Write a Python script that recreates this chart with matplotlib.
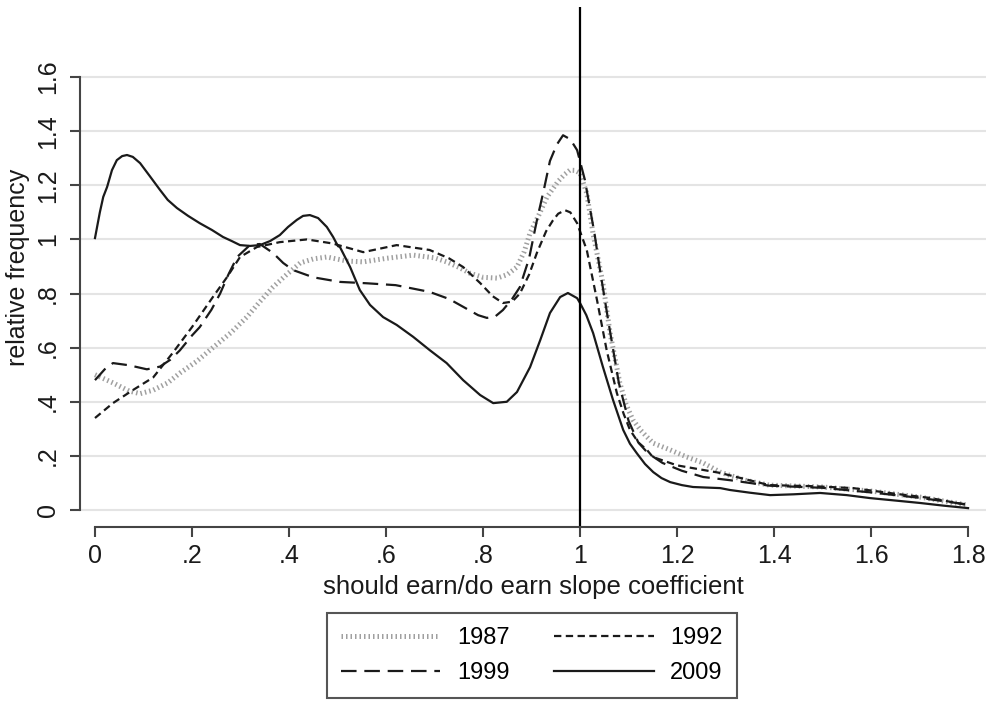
import matplotlib
matplotlib.use("Agg")
import matplotlib.pyplot as plt

plt.rcParams['font.family'] = ['Liberation Sans', 'DejaVu Sans']

# === Data ===
x_1987 = [0, 0.037, 0.07, 0.093, 0.12, 0.15, 0.175, 0.21, 0.243, 0.28, 0.313, 0.34, 0.367, 0.395,
          0.423, 0.45, 0.478, 0.52, 0.553, 0.6, 0.656, 0.7, 0.725, 0.75, 0.773, 0.8, 0.829, 0.85, 0.87,
          0.885, 0.897, 0.915, 0.932, 0.955, 0.968, 0.979, 0.99, 1.0, 1.014, 1.027, 1.047, 1.062, 1.082,
          1.095, 1.109, 1.125, 1.138, 1.151, 1.186, 1.22, 1.254, 1.289, 1.34, 1.39, 1.5, 1.6, 1.7, 1.8]
y_1987 = [0.50, 0.47, 0.44, 0.43, 0.443, 0.47, 0.506, 0.55, 0.60, 0.655, 0.713, 0.77, 0.824, 0.87,
          0.913, 0.928, 0.935, 0.92, 0.917, 0.93, 0.942, 0.932, 0.917, 0.897, 0.875, 0.86, 0.857, 0.87, 0.898,
          0.955, 1.024, 1.09, 1.157, 1.215, 1.24, 1.256, 1.255, 1.245, 1.17, 1.02, 0.84, 0.654, 0.47,
          0.39, 0.333, 0.295, 0.27, 0.247, 0.222, 0.196, 0.174, 0.14, 0.11, 0.092, 0.085, 0.07, 0.048, 0.018]

x_1992 = [0, 0.037, 0.078, 0.12, 0.16, 0.2, 0.243, 0.272, 0.299, 0.334, 0.381, 0.437, 0.49, 0.553,
          0.622, 0.69, 0.73, 0.759, 0.794, 0.82, 0.841, 0.86, 0.876, 0.895, 0.911, 0.93, 0.944, 0.955,
          0.969, 0.98, 0.994, 1.014, 1.035, 1.055, 1.076, 1.09, 1.103, 1.12, 1.138, 1.15, 1.2, 1.289,
          1.39, 1.48, 1.563, 1.65, 1.72, 1.8]
y_1992 = [0.34, 0.395, 0.443, 0.49, 0.58, 0.676, 0.787, 0.86, 0.935, 0.972, 0.99, 1.0, 0.985, 0.953,
          0.979, 0.961, 0.93, 0.898, 0.839, 0.79, 0.765, 0.77, 0.80, 0.87, 0.95, 1.03, 1.07, 1.095,
          1.108, 1.10, 1.06, 0.96, 0.776, 0.59, 0.432, 0.355, 0.296, 0.25, 0.222, 0.196, 0.165, 0.137,
          0.092, 0.088, 0.081, 0.06, 0.045, 0.018]

x_1999 = [0, 0.02, 0.037, 0.07, 0.107, 0.134, 0.155, 0.175, 0.2, 0.216, 0.24, 0.258, 0.275, 0.293,
          0.32, 0.34, 0.367, 0.388, 0.408, 0.45, 0.505, 0.56, 0.62, 0.69, 0.73, 0.76, 0.79, 0.808, 0.825,
          0.841, 0.86, 0.876, 0.895, 0.911, 0.925, 0.938, 0.952, 0.965, 0.98, 0.994, 1.01, 1.03, 1.04,
          1.06, 1.08, 1.1, 1.12, 1.14, 1.17, 1.21, 1.254, 1.31, 1.39, 1.5, 1.6, 1.7, 1.8]
y_1999 = [0.48, 0.52, 0.543, 0.535, 0.52, 0.53, 0.555, 0.59, 0.645, 0.676, 0.74, 0.80, 0.87, 0.935,
          0.98, 0.983, 0.95, 0.913, 0.887, 0.86, 0.843, 0.838, 0.831, 0.806, 0.78, 0.75, 0.72, 0.71, 0.715,
          0.739, 0.78, 0.824, 0.93, 1.07, 1.18, 1.29, 1.35, 1.385, 1.37, 1.33, 1.22, 1.02, 0.90,
          0.68, 0.47, 0.33, 0.25, 0.21, 0.174, 0.145, 0.122, 0.11, 0.09, 0.082, 0.065, 0.045, 0.02]

x_2009 = [0, 0.01, 0.017, 0.025, 0.035, 0.045, 0.056, 0.066, 0.078, 0.093, 0.113, 0.134, 0.15, 0.169,
          0.192, 0.216, 0.241, 0.264, 0.282, 0.299, 0.32, 0.34, 0.361, 0.381, 0.398, 0.416, 0.429, 0.443,
          0.46, 0.478, 0.491, 0.501, 0.505, 0.526, 0.546, 0.567, 0.594, 0.622, 0.656, 0.69, 0.725, 0.759,
          0.794, 0.821, 0.849, 0.87, 0.897, 0.918, 0.938, 0.959, 0.975, 0.994, 1.0, 1.013, 1.027, 1.047,
          1.068, 1.089, 1.103, 1.117, 1.134, 1.151, 1.168, 1.186, 1.21, 1.233, 1.26, 1.289, 1.309, 1.35,
          1.392, 1.44, 1.495, 1.55, 1.598, 1.65, 1.701, 1.75, 1.8]
y_2009 = [1.005, 1.10, 1.157, 1.194, 1.256, 1.293, 1.308, 1.312, 1.305, 1.282, 1.234, 1.183, 1.146, 1.116,
          1.087, 1.06, 1.035, 1.009, 0.994, 0.979, 0.976, 0.979, 0.994, 1.016, 1.046, 1.072, 1.087, 1.09,
          1.079, 1.046, 1.009, 0.975, 0.972, 0.898, 0.813, 0.758, 0.713, 0.684, 0.64, 0.591, 0.543, 0.48,
          0.425, 0.395, 0.40, 0.436, 0.528, 0.628, 0.728, 0.787, 0.802, 0.783, 0.765, 0.72, 0.654, 0.53,
          0.407, 0.296, 0.245, 0.21, 0.17, 0.14, 0.118, 0.103, 0.092, 0.085, 0.083, 0.081, 0.074, 0.064,
          0.055, 0.058, 0.063, 0.055, 0.044, 0.035, 0.026, 0.016, 0.007]

x_ticks = [0, 0.2, 0.4, 0.6, 0.8, 1.0, 1.2, 1.4, 1.6, 1.8]
x_tick_labels = ['0', '.2', '.4', '.6', '.8', '1', '1.2', '1.4', '1.6', '1.8']
y_ticks = [0, 0.2, 0.4, 0.6, 0.8, 1.0, 1.2, 1.4, 1.6]
y_tick_labels = ['0', '.2', '.4', '.6', '.8', '1', '1.2', '1.4', '1.6']

# === Figure ===
fig = plt.figure(figsize=(9.91, 7.01), dpi=100)
ax = fig.add_axes([80 / 991, 1 - 527 / 701, 906 / 991, 520 / 701])
ax.set_xlim(-0.0309, 1.837)
ax.set_ylim(-0.0628, 1.859)

for yt in y_ticks:
    ax.axhline(yt, color='#e4e4e4', lw=1.5, zorder=0)

l87, = ax.plot(x_1987, y_1987, color='#a0a0a0', lw=3.6, dashes=(0.3, 0.6),
               dash_capstyle='butt', label='1987')
l92, = ax.plot(x_1992, y_1992, color='#1a1a1a', lw=1.6, dashes=(3.3, 2.0), label='1992')
l99, = ax.plot(x_1999, y_1999, color='#1a1a1a', lw=1.6, dashes=(7.0, 3.5), label='1999')
l09, = ax.plot(x_2009, y_2009, color='#1a1a1a', lw=1.6, label='2009')

ax.axvline(1.0, color='black', lw=1.6)

for s in ['top', 'right']:
    ax.spines[s].set_visible(False)
ax.spines['left'].set_bounds(0, 1.6)
ax.spines['bottom'].set_bounds(0, 1.8)
for s in ['left', 'bottom']:
    ax.spines[s].set_color('#444444')
    ax.spines[s].set_linewidth(1.5)

ax.set_xticks(x_ticks)
ax.set_xticklabels(x_tick_labels)
ax.set_yticks(y_ticks)
ax.set_yticklabels(y_tick_labels, rotation=90, va='center')
ax.tick_params(axis='both', direction='out', length=7.5, width=1.5, color='#444444',
               labelsize=18, labelcolor='#1a1a1a')
ax.tick_params(axis='x', pad=5)
ax.tick_params(axis='y', pad=7)

ax.set_xlabel('should earn/do earn slope coefficient', fontsize=18.5, color='#1a1a1a', labelpad=5)
ax.set_ylabel('relative frequency', fontsize=18, color='#1a1a1a', labelpad=4)

leg = fig.legend([l87, l99, l92, l09], ['1987', '1999', '1992', '2009'],
                 loc='upper center', bbox_to_anchor=(532 / 991, 1 - 613 / 701), ncol=2,
                 fontsize=17, handlelength=4.2, handletextpad=0.7, columnspacing=1.9,
                 borderpad=0.6, labelspacing=0.55, borderaxespad=0, fancybox=False, framealpha=1)
leg.get_frame().set_edgecolor('#555555')
leg.get_frame().set_linewidth(1.5)

plt.savefig('out.png', dpi=100)
